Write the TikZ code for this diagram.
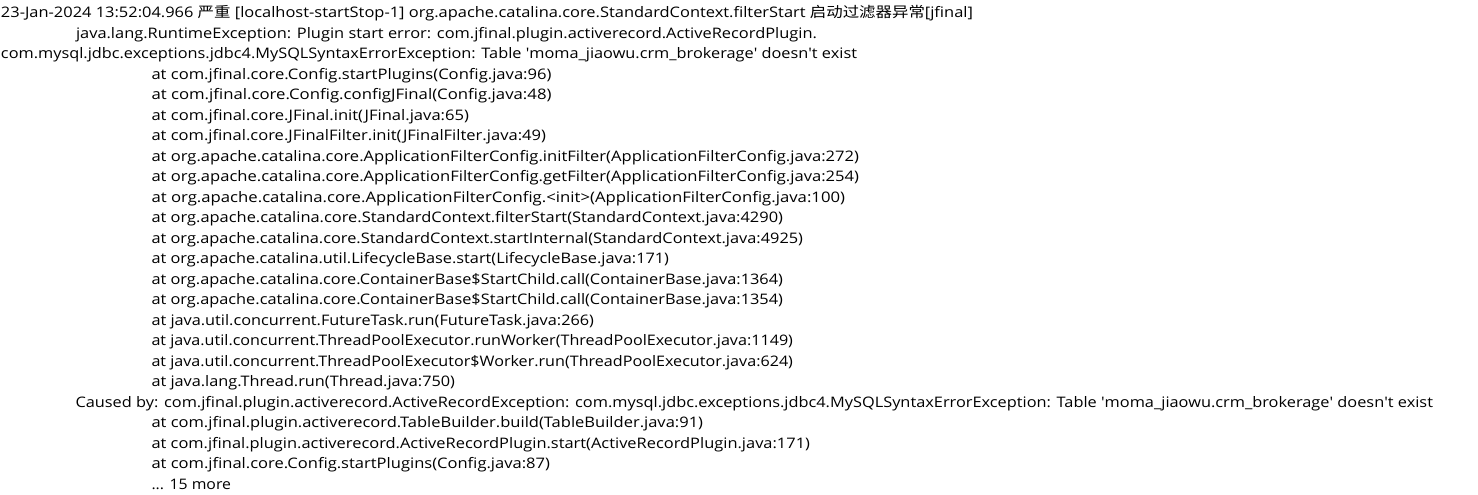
\documentclass[tikz,border=0pt]{standalone}
\usepackage{fontspec}
\usepackage{graphicx}
\setmainfont{Open Sans}
\newfontfamily\cjk{Noto Sans CJK SC}
\newcommand{\q}{\textquotesingle}
\tikzset{logline/.style={anchor=base west, inner sep=0pt, outer sep=0pt, text=black,
  font=\fontsize{14.5}{17}\selectfont}}
\newcommand{\fitw}[2]{\resizebox{#1pt}{\height}{#2}}
\begin{document}
\begin{tikzpicture}[x=1pt,y=-1pt]
\useasboundingbox (0,0) rectangle (1478,495);
\fill[white] (0,0) rectangle (1478,495);
\node[logline] (l1) at (1,18.0) {\fitw{972}{23-Jan-2024 13:52:04.966 {\cjk 严重} [localhost-startStop-1] org.apache.catalina.core.StandardContext.filterStart {\cjk 启动过滤器异常}[jfinal]}};
\node[logline] (l2) at (76,38.5) {\fitw{741}{java.lang.RuntimeException: Plugin start error: com.jfinal.plugin.activerecord.ActiveRecordPlugin.}};
\node[logline] (l3) at (1,59.0) {\fitw{856}{com.mysql.jdbc.exceptions.jdbc4.MySQLSyntaxErrorException: Table \q moma\_jiaowu.crm\_brokerage\q{} doesn\q t exist}};
\node[logline] (l4) at (151.5,79.4) {\fitw{400}{at com.jfinal.core.Config.startPlugins(Config.java:96)}};
\node[logline] (l5) at (151.5,99.9) {\fitw{400}{at com.jfinal.core.Config.configJFinal(Config.java:48)}};
\node[logline] (l6) at (151.5,120.4) {\fitw{317.5}{at com.jfinal.core.JFinal.init(JFinal.java:65)}};
\node[logline] (l7) at (151.5,140.9) {\fitw{394.5}{at com.jfinal.core.JFinalFilter.init(JFinalFilter.java:49)}};
\node[logline] (l8) at (151.5,161.4) {\fitw{707.5}{at org.apache.catalina.core.ApplicationFilterConfig.initFilter(ApplicationFilterConfig.java:272)}};
\node[logline] (l9) at (151.5,181.8) {\fitw{707.5}{at org.apache.catalina.core.ApplicationFilterConfig.getFilter(ApplicationFilterConfig.java:254)}};
\node[logline] (l10) at (151.5,202.3) {\fitw{693.5}{at org.apache.catalina.core.ApplicationFilterConfig.<init>(ApplicationFilterConfig.java:100)}};
\node[logline] (l11) at (151.5,222.8) {\fitw{631.5}{at org.apache.catalina.core.StandardContext.filterStart(StandardContext.java:4290)}};
\node[logline] (l12) at (151.5,243.3) {\fitw{651.5}{at org.apache.catalina.core.StandardContext.startInternal(StandardContext.java:4925)}};
\node[logline] (l13) at (151.5,263.8) {\fitw{517.5}{at org.apache.catalina.util.LifecycleBase.start(LifecycleBase.java:171)}};
\node[logline] (l14) at (151.5,284.2) {\fitw{631.5}{at org.apache.catalina.core.ContainerBase\$StartChild.call(ContainerBase.java:1364)}};
\node[logline] (l15) at (151.5,304.7) {\fitw{631.5}{at org.apache.catalina.core.ContainerBase\$StartChild.call(ContainerBase.java:1354)}};
\node[logline] (l16) at (151.5,325.2) {\fitw{442.5}{at java.util.concurrent.FutureTask.run(FutureTask.java:266)}};
\node[logline] (l17) at (151.5,345.7) {\fitw{641.5}{at java.util.concurrent.ThreadPoolExecutor.runWorker(ThreadPoolExecutor.java:1149)}};
\node[logline] (l18) at (151.5,366.2) {\fitw{641.5}{at java.util.concurrent.ThreadPoolExecutor\$Worker.run(ThreadPoolExecutor.java:624)}};
\node[logline] (l19) at (151.5,386.6) {\fitw{303.5}{at java.lang.Thread.run(Thread.java:750)}};
\node[logline] (l20) at (75.5,407.1) {\fitw{1357.5}{Caused by: com.jfinal.plugin.activerecord.ActiveRecordException: com.mysql.jdbc.exceptions.jdbc4.MySQLSyntaxErrorException: Table \q moma\_jiaowu.crm\_brokerage\q{} doesn\q t exist}};
\node[logline] (l21) at (151.5,427.6) {\fitw{551.5}{at com.jfinal.plugin.activerecord.TableBuilder.build(TableBuilder.java:91)}};
\node[logline] (l22) at (151.5,448.1) {\fitw{658.5}{at com.jfinal.plugin.activerecord.ActiveRecordPlugin.start(ActiveRecordPlugin.java:171)}};
\node[logline] (l23) at (151.5,468.6) {\fitw{398.5}{at com.jfinal.core.Config.startPlugins(Config.java:87)}};
\node[logline] (l24) at (151.5,489.0) {\fitw{79.5}{... 15 more}};
\end{tikzpicture}
\end{document}
